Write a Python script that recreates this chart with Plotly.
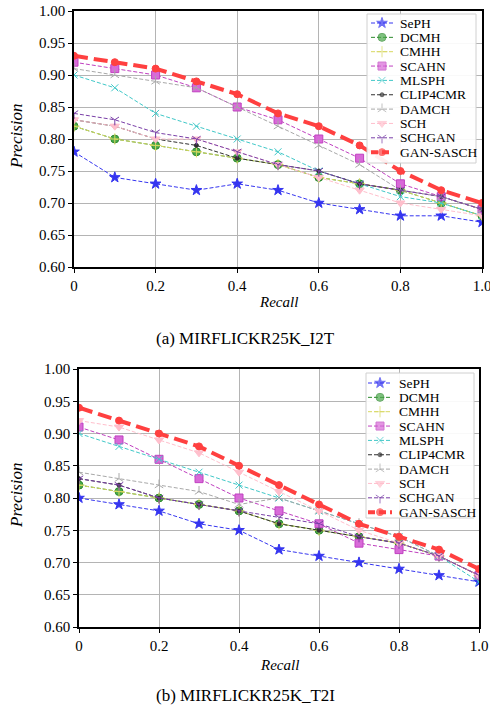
import plotly.graph_objects as go

recall = [0, 0.1, 0.2, 0.3, 0.4, 0.5, 0.6, 0.7, 0.8, 0.9, 1.0]
methods = ["SePH", "DCMH", "CMHH", "SCAHN", "MLSPH", "CLIP4CMR", "DAMCH", "SCH", "SCHGAN", "GAN-SASCH"]

# (a) MIRFLICKR25K_I2T
i2t_SePH = [0.78, 0.74, 0.73, 0.72, 0.73, 0.72, 0.70, 0.69, 0.68, 0.68, 0.67]
i2t_DCMH = [0.82, 0.80, 0.79, 0.78, 0.77, 0.76, 0.74, 0.73, 0.72, 0.70, 0.68]
i2t_CMHH = [0.82, 0.80, 0.79, 0.78, 0.77, 0.76, 0.74, 0.73, 0.72, 0.70, 0.68]
i2t_SCAHN = [0.92, 0.91, 0.90, 0.88, 0.85, 0.83, 0.80, 0.77, 0.73, 0.71, 0.69]
i2t_MLSPH = [0.90, 0.88, 0.84, 0.82, 0.80, 0.78, 0.75, 0.73, 0.71, 0.70, 0.68]
i2t_CLIP4CMR = [0.83, 0.82, 0.80, 0.79, 0.77, 0.76, 0.75, 0.73, 0.72, 0.71, 0.69]
i2t_DAMCH = [0.91, 0.90, 0.89, 0.88, 0.85, 0.82, 0.79, 0.76, 0.72, 0.71, 0.69]
i2t_SCH = [0.83, 0.82, 0.80, 0.80, 0.78, 0.76, 0.74, 0.72, 0.70, 0.69, 0.68]
i2t_SCHGAN = [0.84, 0.83, 0.81, 0.80, 0.78, 0.76, 0.75, 0.73, 0.72, 0.71, 0.69]
i2t_GANSASCH = [0.93, 0.92, 0.91, 0.89, 0.87, 0.84, 0.82, 0.79, 0.75, 0.72, 0.70]

# (b) MIRFLICKR25K_T2I
t2i_SePH = [0.80, 0.79, 0.78, 0.76, 0.75, 0.72, 0.71, 0.70, 0.69, 0.68, 0.67]
t2i_DCMH = [0.82, 0.81, 0.80, 0.79, 0.78, 0.76, 0.75, 0.74, 0.73, 0.71, 0.68]
t2i_CMHH = [0.82, 0.81, 0.80, 0.79, 0.78, 0.76, 0.75, 0.74, 0.73, 0.71, 0.68]
t2i_SCAHN = [0.91, 0.89, 0.86, 0.83, 0.80, 0.78, 0.76, 0.73, 0.72, 0.71, 0.68]
t2i_MLSPH = [0.90, 0.88, 0.86, 0.84, 0.82, 0.80, 0.78, 0.76, 0.74, 0.71, 0.67]
t2i_CLIP4CMR = [0.83, 0.82, 0.80, 0.79, 0.78, 0.76, 0.75, 0.74, 0.73, 0.71, 0.68]
t2i_DAMCH = [0.84, 0.83, 0.82, 0.81, 0.79, 0.80, 0.78, 0.76, 0.74, 0.71, 0.68]
t2i_SCH = [0.92, 0.91, 0.89, 0.87, 0.84, 0.81, 0.78, 0.75, 0.73, 0.71, 0.68]
t2i_SCHGAN = [0.83, 0.82, 0.80, 0.79, 0.78, 0.77, 0.76, 0.74, 0.73, 0.71, 0.68]
t2i_GANSASCH = [0.94, 0.92, 0.90, 0.88, 0.85, 0.82, 0.79, 0.76, 0.74, 0.72, 0.69]

x_ticks = [0, 0.2, 0.4, 0.6, 0.8, 1.0]
x_ticklabels = ["0", "0.2", "0.4", "0.6", "0.8", "1.0"]
y_ticks = [0.60, 0.65, 0.70, 0.75, 0.80, 0.85, 0.90, 0.95, 1.00]
y_ticklabels = ["0.60", "0.65", "0.70", "0.75", "0.80", "0.85", "0.90", "0.95", "1.00"]

captions = ["(a) MIRFLICKR25K_I2T", "(b) MIRFLICKR25K_T2I"]

i2t = [i2t_SePH, i2t_DCMH, i2t_CMHH, i2t_SCAHN, i2t_MLSPH, i2t_CLIP4CMR, i2t_DAMCH, i2t_SCH, i2t_SCHGAN, i2t_GANSASCH]
t2i = [t2i_SePH, t2i_DCMH, t2i_CMHH, t2i_SCAHN, t2i_MLSPH, t2i_CLIP4CMR, t2i_DAMCH, t2i_SCH, t2i_SCHGAN, t2i_GANSASCH]

styles = {
    "SePH": dict(color="#3535f0", symbol="star", size=8, width=1, dash="4px,2px"),
    "DCMH": dict(color="#2e8b2e", symbol="circle", size=8, width=1, dash="4px,2px", fill="#4aa84a"),
    "CMHH": dict(color="#d8d860", symbol="cross-thin", size=8, width=1, dash="4px,2px"),
    "SCAHN": dict(color="#c040c0", symbol="square", size=8, width=1, dash="4px,2px", fill="#d86ad8"),
    "MLSPH": dict(color="#40c8c8", symbol="x-thin", size=7, width=1, dash="4px,2px"),
    "CLIP4CMR": dict(color="#303030", symbol="circle", size=4, width=1, dash="4px,2px"),
    "DAMCH": dict(color="#a8a8a8", symbol="y-up", size=7, width=1, dash="4px,2px"),
    "SCH": dict(color="#ffbfcc", symbol="triangle-down", size=8, width=1, dash="4px,2px"),
    "SCHGAN": dict(color="#7a3fa8", symbol="y-down", size=7, width=1, dash="4px,2px"),
    "GAN-SASCH": dict(color="#ff4040", symbol="circle", size=7, width=4, dash="14px,6px"),
}

FONT = "Liberation Serif"
W, H = 490, 709

# panel geometry in pixels: (left, right, top, bottom)
panels = [(74, 482, 11, 267), (79, 479, 369, 627)]
# legend geometry in pixels: box (x0, x1, y0, y1), first entry y, step, line x0, x1, text x
legends = [((367, 476, 14, 163), 23, 14.35, 371, 393, 398),
           ((366, 474, 373, 518), 383, 14.35, 368, 392, 397)]
caption_y = [338, 695]
recall_title_y = [302, 665]

fig = go.Figure()


def mk_marker(s, sizes=None):
    return dict(symbol=s["symbol"], size=sizes if sizes is not None else s["size"],
                color=s.get("fill", s["color"]), line=dict(color=s["color"], width=1))


for p, data in enumerate([i2t, t2i]):
    xa = "x" if p == 0 else "x2"
    ya = "y" if p == 0 else "y2"
    for name, vals in zip(methods, data):
        s = styles[name]
        fig.add_trace(go.Scatter(
            x=recall, y=vals, name=name, mode="lines+markers", showlegend=False,
            line=dict(color=s["color"], width=s["width"], dash=s["dash"]),
            marker=mk_marker(s), xaxis=xa, yaxis=ya,
        ))

# custom legends drawn on a full-figure pixel overlay axis (x3/y3), above the data
annotations = []
for p, (box, y0, step, lx0, lx1, tx) in enumerate(legends):
    fig.add_trace(go.Scatter(
        x=[box[0], box[1], box[1], box[0], box[0]], y=[box[2], box[2], box[3], box[3], box[2]],
        mode="lines", fill="toself", fillcolor="rgba(255,255,255,0.92)",
        line=dict(color="#d0d0d0", width=1), showlegend=False, hoverinfo="skip",
        xaxis="x3", yaxis="y3",
    ))
    for i, name in enumerate(methods):
        s = styles[name]
        yc = y0 + i * step
        fig.add_trace(go.Scatter(
            x=[lx0, (lx0 + lx1) / 2, lx1], y=[yc, yc, yc], mode="lines+markers", showlegend=False,
            line=dict(color=s["color"], width=s["width"], dash=s["dash"] if name != "GAN-SASCH" else "7px,4px"),
            marker=mk_marker(s, [0, s["size"], 0]), xaxis="x3", yaxis="y3", hoverinfo="skip",
        ))
        annotations.append(dict(text=name, x=tx, y=yc, xref="x3", yref="y3", showarrow=False,
                                xanchor="left", yanchor="middle",
                                font=dict(size=13.5, color="black", family=FONT)))

for p, (l, r, t, b) in enumerate(panels):
    annotations.append(dict(text="<i>Recall</i>", x=(l + r) / 2, y=recall_title_y[p], xref="x3", yref="y3",
                            showarrow=False, xanchor="center", yanchor="middle",
                            font=dict(size=15, color="black", family=FONT)))
    annotations.append(dict(text="<i>Precision</i>", x=16, y=(t + b) / 2 - 3, xref="x3", yref="y3",
                            showarrow=False, xanchor="center", yanchor="middle", textangle=-90,
                            font=dict(size=17, color="black", family=FONT)))
    annotations.append(dict(text=captions[p], x=W / 2, y=caption_y[p], xref="x3", yref="y3",
                            showarrow=False, xanchor="center", yanchor="middle",
                            font=dict(size=17, color="black", family=FONT)))


def xaxis(l, r, anchor):
    return dict(domain=[l / W, r / W], anchor=anchor, range=[0, 1], tickvals=x_ticks, ticktext=x_ticklabels,
                showline=True, linecolor="black", linewidth=1.5, mirror=True, automargin=False,
                showgrid=True, gridcolor="#b4b4b4", gridwidth=1, zeroline=False,
                ticks="outside", ticklen=4, tickcolor="black", ticklabeloverflow="allow",
                tickfont=dict(size=15, color="black", family=FONT))


def yaxis(t, b, anchor):
    return dict(domain=[1 - b / H, 1 - t / H], anchor=anchor, range=[0.60, 1.00], tickvals=y_ticks,
                ticktext=y_ticklabels, automargin=False,
                showline=True, linecolor="black", linewidth=1.5, mirror=True,
                showgrid=True, gridcolor="#b4b4b4", gridwidth=1, zeroline=False,
                ticks="outside", ticklen=4, tickcolor="black",
                tickfont=dict(size=15, color="black", family=FONT))


fig.update_layout(
    width=W, height=H,
    margin=dict(l=0, r=0, t=0, b=0),
    paper_bgcolor="white", plot_bgcolor="rgba(0,0,0,0)",
    font=dict(family=FONT, color="black"),
    showlegend=False,
    xaxis=xaxis(panels[0][0], panels[0][1], "y"),
    yaxis=yaxis(panels[0][2], panels[0][3], "x"),
    xaxis2=xaxis(panels[1][0], panels[1][1], "y2"),
    yaxis2=yaxis(panels[1][2], panels[1][3], "x2"),
    xaxis3=dict(domain=[0, 1], anchor="y3", range=[0, W], visible=False, fixedrange=True, automargin=False),
    yaxis3=dict(domain=[0, 1], anchor="x3", range=[H, 0], visible=False, fixedrange=True, automargin=False),
    annotations=annotations,
)

fig.write_html("out.html", config={"displayModeBar": False},
               post_script="document.body.style.margin='0';document.body.style.overflow='hidden';")
